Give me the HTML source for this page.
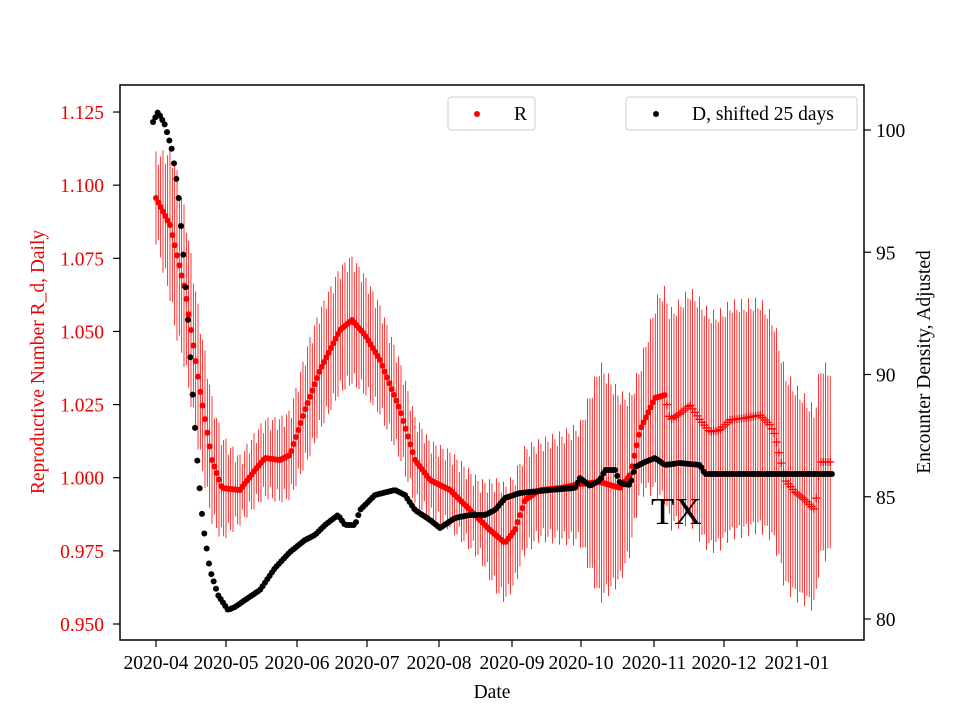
<!DOCTYPE html>
<html><head><meta charset="utf-8"><style>
body{margin:0;background:#fff;}
svg{font-family:"Liberation Serif",serif;}
</style></head><body>
<svg id="s" width="960" height="720" xmlns="http://www.w3.org/2000/svg">
<rect x="0" y="0" width="960" height="720" fill="#fff"/>
<g id="err"></g>
<g id="red"></g>
<g id="blk"></g>
<text x="651" y="524" font-size="38" fill="#000">TX</text>
<rect x="120" y="85" width="744" height="555" fill="none" stroke="#000" stroke-width="1.5"/>
<g id="ticks" font-size="19.5"></g>
<text x="492" y="698" font-size="19.5" text-anchor="middle">Date</text>
<text transform="translate(44,362) rotate(-90)" font-size="19.5" fill="#e00" text-anchor="middle">Reproductive Number R_d, Daily</text>
<text transform="translate(930,362) rotate(-90)" font-size="19.5" text-anchor="middle">Encounter Density, Adjusted</text>
<rect x="448" y="97" width="87" height="33" rx="3" fill="#fff" stroke="#ccc"/>
<circle cx="477" cy="114" r="3" fill="red"/><text x="514" y="120" font-size="19.5">R</text>
<rect x="626" y="97" width="231" height="33" rx="3" fill="#fff" stroke="#ccc"/>
<circle cx="656" cy="114" r="3" fill="#000"/><text x="692" y="120" font-size="19.5">D, shifted 25 days</text>
</svg>
<script>
const NS="http://www.w3.org/2000/svg";
function el(p,t,a){const e=document.createElementNS(NS,t);for(const k in a)e.setAttribute(k,a[k]);p.appendChild(e);return e;}
function interp(k,x){if(x<=k[0][0])return k[0][1];for(let i=1;i<k.length;i++){if(x<=k[i][0]){const a=k[i-1],b=k[i];return a[1]+(b[1]-a[1])*(x-a[0])/(b[0]-a[0]);}}return k[k.length-1][1];}
const T=document.getElementById('ticks');
const lv=["0.950","0.975","1.000","1.025","1.050","1.075","1.100","1.125"];
lv.forEach((v,i)=>{const y=624-i*73.14;el(T,'line',{x1:113,x2:120,y1:y,y2:y,stroke:'#000','stroke-width':1.2});const t=el(T,'text',{x:104,y:y+7,'text-anchor':'end',fill:'#e00'});t.textContent=v;});
[80,85,90,95,100].forEach((v,i)=>{const y=619-i*122.25;el(T,'line',{x1:864,x2:871,y1:y,y2:y,stroke:'#000','stroke-width':1.2});const t=el(T,'text',{x:876,y:y+7});t.textContent=v;});
const xl=[["2020-04",156],["2020-05",226],["2020-06",297],["2020-07",367],["2020-08",439],["2020-09",512],["2020-10",581],["2020-11",654],["2020-12",724],["2021-01",797]];
xl.forEach(([l,x])=>{el(T,'line',{x1:x,x2:x,y1:640,y2:647,stroke:'#000','stroke-width':1.2});const t=el(T,'text',{x:x,y:669,'text-anchor':'middle'});t.textContent=l;});
const rk=[[156,198],[170,225],[185,290],[200,390],[212,460],[222,488],[240,490],[255,470],[265,458],[280,460],[290,455],[305,410],[320,370],[340,330],[352,320],[365,335],[380,360],[400,410],[415,460],[430,480],[450,490],[470,510],[490,530],[505,543],[515,530],[525,500],[540,490],[560,488],[580,484],[600,482],[620,488],[630,475],[640,430],[655,398],[665,395],[670,420],[682,412],[690,405],[700,420],[710,432],[720,430],[730,420],[745,418],[760,415],[770,425],[775,435],[785,480],[795,492],[805,500],[815,510],[820,462],[830,462]];
const hk=[[156,40],[175,80],[210,60],[240,30],[290,40],[310,55],[350,60],[400,45],[430,35],[480,35],[500,55],[540,45],[580,55],[600,115],[620,90],[640,60],[660,100],[700,115],[760,110],[800,100],[830,90]];
const E=document.getElementById('err'),R=document.getElementById('red'),B=document.getElementById('blk');
for(let x=156;x<=831;x+=2.333){const y=interp(rk,x),h=interp(hk,x)+8*Math.sin(x*0.9);el(E,'line',{x1:x,x2:x,y1:y-h,y2:y+h,stroke:'red','stroke-width':0.8});
 if(x<665)el(R,'circle',{cx:x,cy:y,r:3,fill:'red'});else{el(R,'path',{d:`M${x-4},${y}h8M${x},${y-4}v8`,stroke:'red','stroke-width':1.3});}}
const bk=[[153,122],[158,112],[165,125],[172,150],[178,190],[183,250],[188,320],[193,400],[198,470],[203,525],[210,570],[218,595],[228,610],[235,607],[245,600],[260,590],[275,568],[290,552],[305,540],[315,535],[325,525],[338,515],[345,525],[355,525],[360,510],[375,495],[395,490],[405,495],[415,510],[430,520],[440,528],[455,518],[470,515],[485,515],[495,510],[505,498],[520,493],[550,490],[575,488],[580,478],[590,486],[600,480],[605,470],[615,470],[620,483],[630,485],[635,467],[645,462],[655,458],[665,465],[680,463],[700,465],[705,474],[720,474],[833,474]];
for(let x=153;x<=833;x+=2.333){el(B,'circle',{cx:x,cy:interp(bk,x),r:3,fill:'#000'});}
</script>
</body></html>
